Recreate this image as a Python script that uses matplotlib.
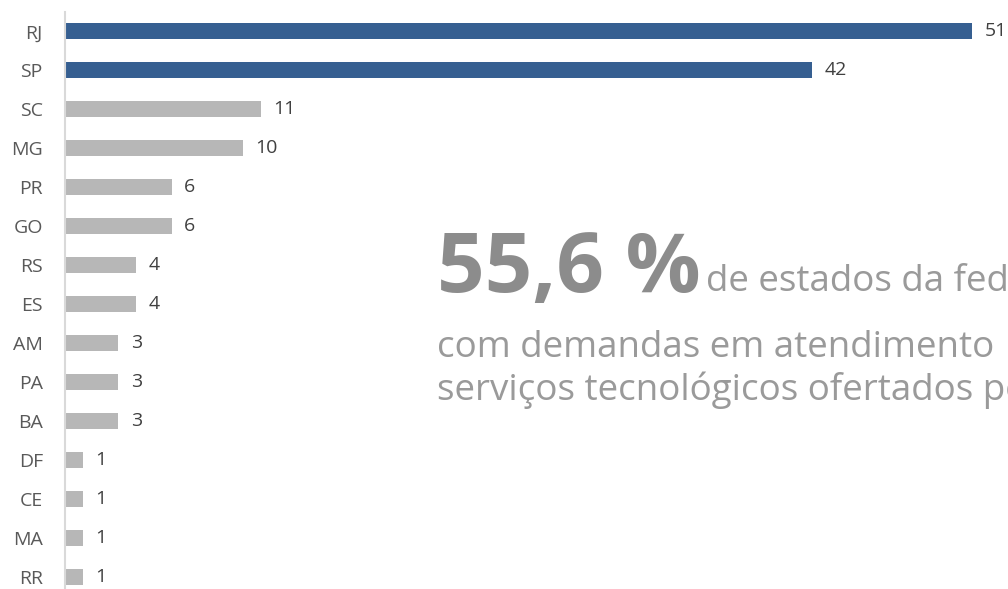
import matplotlib.pyplot as plt

# data
estados = ['RJ', 'SP', 'SC', 'MG', 'PR', 'GO', 'RS', 'ES', 'AM', 'PA', 'BA', 'DF', 'CE', 'MA', 'RR']
demandas = [51, 42, 11, 10, 6, 6, 4, 4, 3, 3, 3, 1, 1, 1, 1]
destaque = ['RJ', 'SP']

azul = '#365F91'
cinza = '#B7B7B7'

plt.rcParams['font.family'] = ['Open Sans', 'DejaVu Sans']

fig = plt.figure(figsize=(10.08, 5.89), dpi=100)
W, H = 1008, 589
ax = fig.add_axes([65 / W, -7.5 / H, 943 / W, 584.5 / H])

cores = [azul if e in destaque else cinza for e in estados]
y = list(range(len(estados)))
ax.barh(y, demandas, height=0.41, color=cores)

ax.set_ylim(len(estados) - 0.5, -0.5)
ax.set_xlim(0, 943 / 17.78)
ax.set_yticks(y)
ax.set_yticklabels(estados, fontsize=14, color='#595959')
ax.tick_params(axis='y', length=0, pad=16)
ax.set_xticks([])

for s in ['top', 'right', 'bottom']:
    ax.spines[s].set_visible(False)
ax.spines['left'].set_color('#D9D9D9')
ax.spines['left'].set_linewidth(1.5)

# value labels
for yi, v in zip(y, demandas):
    ax.annotate(str(v), (v, yi), xytext=(9, 0), textcoords='offset points',
                va='center', ha='left', fontsize=14, color='#404040')

# highlighted text on the right (cut at the right edge, as in the reference)
fig.text(437 / W, 1 - 292 / H, '55,6 %', fontsize=60, fontweight='bold',
         color='#8C8C8C', ha='left', va='baseline')
fig.text(706 / W, 1 - 291 / H, 'de estados da federação', fontsize=26.5,
         color='#9A9A9A', ha='left', va='baseline')
fig.text(437 / W, 1 - 357 / H, 'com demandas em atendimento', fontsize=26.5,
         color='#9A9A9A', ha='left', va='baseline')
fig.text(437 / W, 1 - 400 / H, 'serviços tecnológicos ofertados pelo', fontsize=26.5,
         color='#9A9A9A', ha='left', va='baseline')

fig.savefig('out.png', dpi=100)
